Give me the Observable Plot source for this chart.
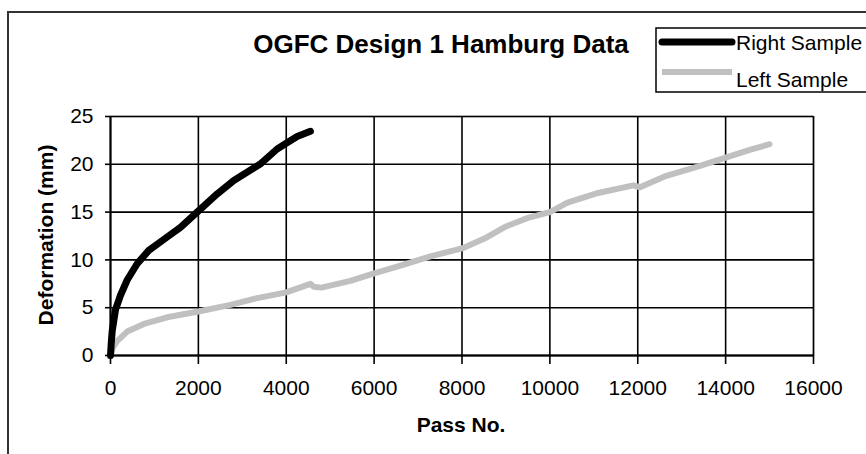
<!DOCTYPE html>
<html><head><meta charset="utf-8">
<script src="https://cdn.jsdelivr.net/npm/d3@7"></script>
<script src="https://cdn.jsdelivr.net/npm/@observablehq/plot@0.6"></script>
<style>body{margin:0;background:#fff;} #chart{position:relative;width:866px;height:454px;overflow:hidden;}</style>
</head><body><div id="chart"></div>
<script>
const chartTitle = "OGFC Design 1 Hamburg Data";
const xLabel = "Pass No.";
const yLabel = "Deformation (mm)";
const seriesNames = ["Right Sample", "Left Sample"];
const seriesColors = ["#000000", "#c0c0c0"];
const xTicks = [0, 2000, 4000, 6000, 8000, 10000, 12000, 14000, 16000];
const yTicks = [0, 5, 10, 15, 20, 25];

const rightPass   = [0, 20, 40, 114, 228, 380, 607, 683, 872, 1290, 1593, 1972, 2428, 2806, 3400, 3793, 4000, 4248, 4550];
const rightDeform = [0, 1.5, 2.6, 4.8, 6.3, 7.9, 9.6, 10.0, 11.0, 12.4, 13.4, 15.0, 16.9, 18.3, 20.0, 21.6, 22.2, 22.9, 23.45];

const leftPass   = [0, 50, 150, 380, 760, 1290, 2000, 2730, 3340, 4000, 4550, 4620, 4800, 5460, 6000, 6600, 7300, 8000, 8500, 9000, 9500, 10000, 10400, 11100, 11900, 12050, 12650, 13400, 14000, 14550, 15000];
const leftDeform = [0, 0.8, 1.5, 2.5, 3.3, 4.0, 4.6, 5.3, 6.0, 6.6, 7.5, 7.2, 7.1, 7.8, 8.6, 9.4, 10.4, 11.2, 12.2, 13.5, 14.4, 15.0, 16.0, 17.0, 17.8, 17.6, 18.8, 19.8, 20.7, 21.5, 22.1];

const rightRows = rightPass.map((p, i) => ({series: seriesNames[0], pass: p, deform: rightDeform[i]}));
const leftRows = leftPass.map((p, i) => ({series: seriesNames[1], pass: p, deform: leftDeform[i]}));

const FONT = "'Liberation Sans', Arial, Helvetica, sans-serif";

const plot = Plot.plot({
  width: 866, height: 454,
  marginLeft: 110, marginRight: 53, marginTop: 116, marginBottom: 99,
  style: {fontFamily: FONT, fontSize: "21px", color: "#000", background: "#fff", overflow: "visible"},
  x: {domain: [0, 16000]},
  y: {domain: [0, 25]},
  color: {domain: seriesNames, range: seriesColors},
  marks: [
    Plot.frame({stroke: "#9a9a9a", strokeWidth: 1.5}),
    Plot.gridX(xTicks, {stroke: "#000", strokeOpacity: 1, strokeWidth: 1.6}),
    Plot.gridY(yTicks, {stroke: "#000", strokeOpacity: 1, strokeWidth: 1.6}),
    Plot.axisX(xTicks, {tickSize: 9, tickPadding: 16, label: null, stroke: "#000", strokeWidth: 1.6, fontSize: 21, tickFormat: d => String(d)}),
    Plot.axisY(yTicks, {tickSize: 5, tickPadding: 12, label: null, stroke: "#000", strokeWidth: 1.6, fontSize: 21, tickFormat: d => String(d)}),
    Plot.ruleY([0], {stroke: "#000", strokeWidth: 1.8}),
    Plot.ruleX([0], {stroke: "#000", strokeWidth: 1.8}),
    Plot.line(leftRows, {x: "pass", y: "deform", stroke: "series", strokeWidth: 6, strokeLinejoin: "round", curve: "linear"}),
    Plot.line(rightRows, {x: "pass", y: "deform", stroke: "series", strokeWidth: 7, strokeLinejoin: "round", strokeLinecap: "round", curve: "linear"})
  ]
});

const svg = d3.select(plot);
// outer chart border
svg.insert("rect", ":first-child")
  .attr("x", 8).attr("y", 12).attr("width", 900).attr("height", 500)
  .attr("fill", "none").attr("stroke", "#333").attr("stroke-width", 2);

// title
svg.append("text").attr("x", 441).attr("y", 53).attr("text-anchor", "middle")
  .attr("font-family", FONT).attr("font-size", 26).attr("font-weight", "bold").attr("fill", "#000")
  .text(chartTitle);

// axis titles
svg.append("text").attr("x", 461).attr("y", 432).attr("text-anchor", "middle")
  .attr("font-family", FONT).attr("font-size", 21).attr("font-weight", "bold").attr("fill", "#000")
  .text(xLabel);
svg.append("text").attr("transform", "translate(53,235) rotate(-90)").attr("text-anchor", "middle")
  .attr("font-family", FONT).attr("font-size", 21).attr("font-weight", "bold").attr("fill", "#000")
  .text(yLabel);

// legend
const lg = svg.append("g");
lg.append("rect").attr("x", 656).attr("y", 28).attr("width", 240).attr("height", 64)
  .attr("fill", "#fff").attr("stroke", "#000").attr("stroke-width", 1.5);
const legendY = [42, 72];
const legendBase = [50, 87];
const legendW = [7, 6];
seriesNames.forEach((name, i) => {
  lg.append("line").attr("x1", 662).attr("x2", 732).attr("y1", legendY[i]).attr("y2", legendY[i])
    .attr("stroke", seriesColors[i]).attr("stroke-width", legendW[i]).attr("stroke-linecap", i === 0 ? "round" : "butt");
  lg.append("text").attr("x", 736).attr("y", legendBase[i]).attr("text-anchor", "start")
    .attr("font-family", FONT).attr("font-size", 21).attr("fill", "#000").text(name);
});

document.getElementById("chart").appendChild(plot);
</script>
</body></html>
